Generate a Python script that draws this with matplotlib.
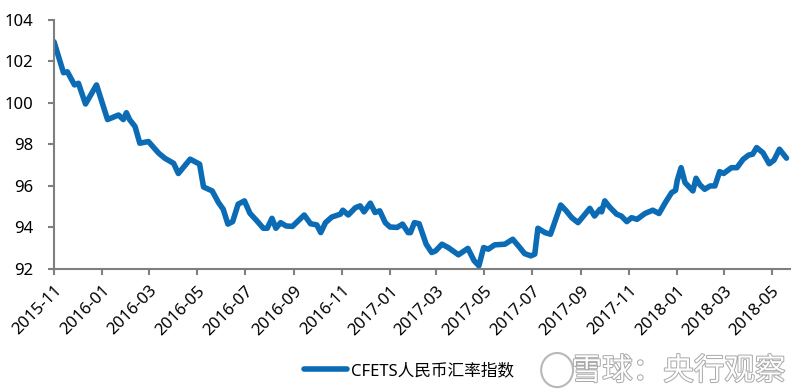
import matplotlib
matplotlib.use("Agg")
import matplotlib.pyplot as plt
import matplotlib.dates as mdates
import matplotlib.patheffects as pe
from matplotlib.patches import Ellipse
import pandas as pd

plt.rcParams["font.family"] = ["Noto Sans", "Noto Sans CJK SC", "DejaVu Sans"]

# CFETS RMB index
dates = [
    "2015-11-30", "2015-12-12", "2015-12-17", "2015-12-26", "2015-12-31",
    "2016-01-09", "2016-01-23", "2016-02-06", "2016-02-20", "2016-02-26",
    "2016-03-01", "2016-03-05", "2016-03-12", "2016-03-18", "2016-03-29",
    "2016-04-11", "2016-04-19", "2016-04-30", "2016-05-06", "2016-05-21",
    "2016-06-02", "2016-06-07", "2016-06-18", "2016-06-26", "2016-07-02",
    "2016-07-08", "2016-07-14", "2016-07-21", "2016-07-29", "2016-08-05",
    "2016-08-14", "2016-08-22", "2016-08-27", "2016-09-02", "2016-09-07",
    "2016-09-13", "2016-09-20", "2016-09-28", "2016-10-13", "2016-10-21",
    "2016-10-29", "2016-11-03", "2016-11-09", "2016-11-17", "2016-11-28",
    "2016-12-01", "2016-12-08", "2016-12-17", "2016-12-23", "2016-12-28",
    "2017-01-05", "2017-01-11", "2017-01-17", "2017-01-24", "2017-01-30",
    "2017-02-08", "2017-02-15", "2017-02-22", "2017-02-25", "2017-03-02",
    "2017-03-08", "2017-03-17", "2017-03-24", "2017-03-29", "2017-04-06",
    "2017-04-14", "2017-04-27", "2017-05-09", "2017-05-17", "2017-05-23",
    "2017-05-29", "2017-06-04", "2017-06-12", "2017-06-25", "2017-07-05",
    "2017-07-14", "2017-07-20", "2017-07-28", "2017-08-02", "2017-08-06",
    "2017-08-15", "2017-08-22", "2017-09-04", "2017-09-11", "2017-09-18",
    "2017-09-26", "2017-10-03", "2017-10-11", "2017-10-17", "2017-10-24",
    "2017-10-26", "2017-10-30", "2017-11-05", "2017-11-14", "2017-11-20",
    "2017-11-27", "2017-12-03", "2017-12-10", "2017-12-20", "2017-12-30",
    "2018-01-07", "2018-01-15", "2018-01-23", "2018-01-28", "2018-01-30",
    "2018-02-04", "2018-02-09", "2018-02-19", "2018-02-23", "2018-02-28",
    "2018-03-06", "2018-03-13", "2018-03-19", "2018-03-25", "2018-03-30",
    "2018-04-09", "2018-04-16", "2018-04-24", "2018-05-01", "2018-05-06",
    "2018-05-11", "2018-05-19", "2018-05-27", "2018-06-02", "2018-06-09",
    "2018-06-18",
]
values = [
    102.95, 101.46, 101.50, 100.87, 100.95,
    99.95, 100.87, 99.20, 99.42, 99.20,
    99.53, 99.20, 98.86, 98.06, 98.14,
    97.58, 97.33, 97.09, 96.60, 97.29,
    97.05, 95.95, 95.76, 95.20, 94.88,
    94.16, 94.28, 95.12, 95.28, 94.68,
    94.31, 93.96, 93.96, 94.44, 93.96,
    94.23, 94.07, 94.05, 94.60, 94.18,
    94.12, 93.75, 94.23, 94.50, 94.64,
    94.83, 94.60, 94.95, 95.04, 94.75,
    95.17, 94.72, 94.80, 94.23, 94.02,
    94.00, 94.16, 93.75, 93.75, 94.23,
    94.18, 93.19, 92.79, 92.87, 93.19,
    93.03, 92.68, 92.99, 92.39, 92.15,
    93.03, 92.95, 93.16, 93.19, 93.43,
    93.03, 92.74, 92.63, 92.71, 93.96,
    93.75, 93.67, 95.08, 94.80, 94.47,
    94.23, 94.55, 94.92, 94.55, 94.88,
    94.75, 95.28, 94.99, 94.64, 94.55,
    94.28, 94.47, 94.39, 94.67, 94.83,
    94.67, 95.20, 95.68, 95.79, 96.25,
    96.88, 96.16, 95.76, 96.37, 96.05,
    95.84, 96.00, 96.00, 96.69, 96.60,
    96.88, 96.88, 97.29, 97.49, 97.53,
    97.85, 97.60, 97.07, 97.24, 97.77,
    97.34,
]
tick_dates = [
    "2015-11-30", "2016-01-30", "2016-03-30", "2016-05-30", "2016-07-30",
    "2016-09-30", "2016-11-30", "2017-01-30", "2017-03-30", "2017-05-30",
    "2017-07-30", "2017-09-30", "2017-11-30", "2018-01-30", "2018-03-30",
    "2018-05-30",
]
series_name = "CFETS人民币汇率指数"

df = pd.DataFrame({"date": pd.to_datetime(dates), "value": values})
ticks = pd.to_datetime(tick_dates)

fig = plt.figure(figsize=(7.97, 3.92), dpi=100)
ax = fig.add_axes([0.0678, 0.314, 0.923, 0.635])

line_color = "#0b6cb5"
axis_color = "#7f7f7f"

ax.plot(df["date"], df["value"], color=line_color, lw=4,
        solid_joinstyle="round", solid_capstyle="round", label=series_name)

ax.set_xlim(pd.Timestamp("2015-11-30"), pd.Timestamp("2018-06-22"))
ax.set_ylim(92, 104)
ax.set_yticks(range(92, 105, 2))
ax.set_xticks(ticks)
ax.xaxis.set_major_formatter(mdates.DateFormatter("%Y-%m"))

for s in ["top", "right"]:
    ax.spines[s].set_visible(False)
for s in ["left", "bottom"]:
    ax.spines[s].set_color(axis_color)
    ax.spines[s].set_linewidth(1.5)
ax.tick_params(axis="both", colors=axis_color, length=4, width=1.5,
               labelcolor="black", labelsize=12)
ax.tick_params(axis="y", pad=11)
ax.tick_params(axis="x", pad=6)
for lab in ax.get_xticklabels():
    lab.set_rotation(45)
    lab.set_ha("right")
    lab.set_va("top")
    lab.set_rotation_mode("anchor")

fig.legend(loc="center", bbox_to_anchor=(0.513, 0.053), frameon=False,
           handlelength=2.6, handletextpad=0.2, fontsize=12)

# watermark
fig.text(0.985, 0.053, "雪球：央行观察", ha="right", va="center",
         fontsize=22, color="white", family=["Noto Sans CJK SC"],
         path_effects=[pe.withStroke(linewidth=1.4, foreground="#a8a8a8")])
fig.patches.append(Ellipse((0.699, 0.056), 0.040, 0.087,
                           transform=fig.transFigure,
                           fill=False, ec="#b8b8b8", lw=1.5))

fig.savefig("out.png", dpi=100)
